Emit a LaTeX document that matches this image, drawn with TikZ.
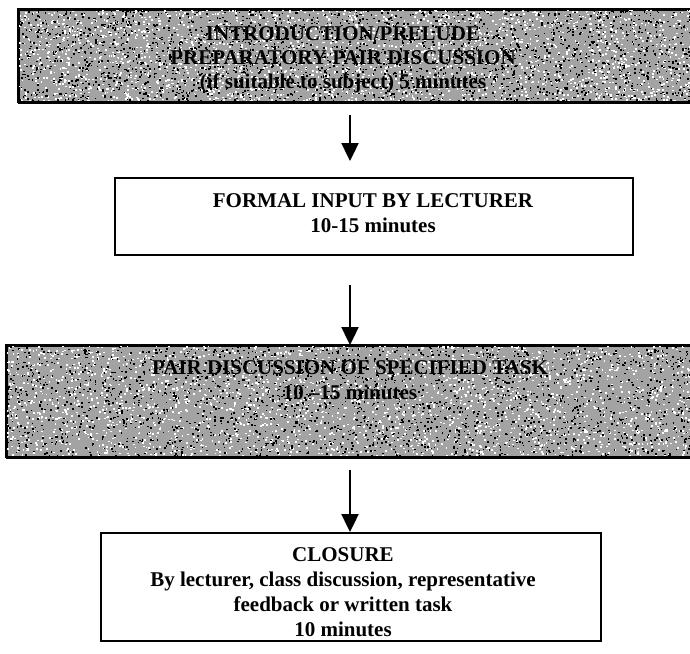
\documentclass[tikz,border=0pt]{standalone}
\usepackage{fontspec}
\setmainfont{Liberation Serif}
\usetikzlibrary{arrows.meta}
\tikzset{
  boxframe/.style={draw=black, line width=2pt, inner sep=0pt, anchor=north west},
  speckbox/.style={boxframe, fill=black!36},
  plainbox/.style={boxframe, fill=white},
  boxtext/.style={align=center, font=\fontsize{21}{25}\selectfont\bfseries, inner sep=0pt},
  flowarrow/.style={line width=2.4pt, -{Triangle[length=18pt,width=17pt]}},
}
\newcommand{\speckle}[4]{% x0 y0 w h
  \pgfmathsetseed{#1#2}
  \foreach \i in {1,...,2600}{\fill[white] ({#1+rnd*#3},{#2+rnd*#4}) rectangle ++(1.8,1.6);}
  \foreach \i in {1,...,2400}{\fill[black] ({#1+rnd*#3},{#2+rnd*#4}) rectangle ++(1.6,1.5);}
}
\begin{document}
\begin{tikzpicture}[x=1pt,y=-1pt]
\useasboundingbox (0,0) rectangle (690,653);
\clip (0,0) rectangle (690,653);
\fill[white] (0,0) rectangle (690,653);

% boxes
\node[speckbox, minimum width=690pt, minimum height=93pt] (b1) at (18,9) {};
\node[plainbox, minimum width=518pt, minimum height=77pt] (b2) at (114,177) {};
\node[speckbox, minimum width=700pt, minimum height=112pt] (b3) at (6,345) {};
\node[plainbox, minimum width=500pt, minimum height=108pt] (b4) at (100,532) {};

\begin{scope}
\clip (18,9) rectangle (700,102);
\speckle{18}{9}{680}{93}
\end{scope}
\begin{scope}
\clip (6,345) rectangle (700,457);
\speckle{6}{345}{690}{112}
\end{scope}
\draw[line width=2pt] (18,9) rectangle (700,102);
\draw[line width=2pt] (6,345) rectangle (700,457);

% texts
\node[boxtext, font=\fontsize{21}{24}\selectfont\bfseries] (t1) at (343,60) {INTRODUCTION/PRELUDE\\PREPARATORY PAIR DISCUSSION\\(if suitable to subject) 5 minutes};
\node[boxtext] (t2) at (373,213) {FORMAL INPUT BY LECTURER\\10-15 minutes};
\node[boxtext] (t3) at (350,380) {PAIR DISCUSSION OF SPECIFIED TASK\\10 --15 minutes};
\node[boxtext] (t4) at (343,592) {CLOSURE\\By lecturer, class discussion, representative\\feedback or written task\\10 minutes};

% arrows
\coordinate (ax) at (350,0);
\draw[flowarrow, shorten >=16pt] ([yshift=-11pt]b1.south -| ax) -- (b2.north -| ax);
\draw[flowarrow] ([yshift=-29pt]b2.south -| ax) -- (b3.north -| ax);
\draw[flowarrow] ([yshift=-11pt]b3.south -| ax) -- (b4.north -| ax);
\end{tikzpicture}
\end{document}
